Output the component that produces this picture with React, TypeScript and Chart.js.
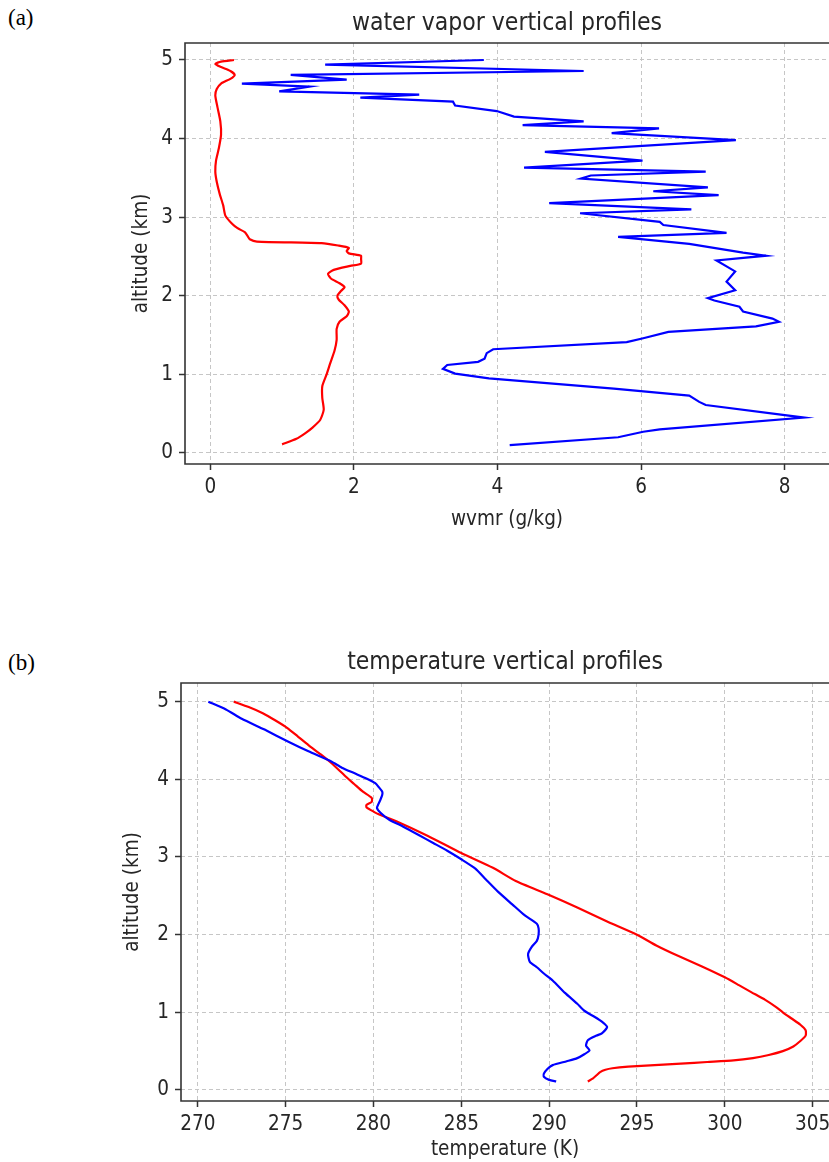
import React, { useEffect, useRef } from 'react';
import { Chart, registerables } from 'chart.js';

Chart.register(...registerables);

// ---------- data ----------
// (a) water vapor mixing ratio (g/kg) vs altitude (km)
const WV_RED_ALT = [0.11, 0.18, 0.25, 0.32, 0.42, 0.55, 0.7, 0.85, 1.0, 1.14, 1.3, 1.44, 1.58, 1.67, 1.74, 1.8, 1.88, 1.95, 2.0, 2.06, 2.11, 2.16, 2.22, 2.28, 2.33, 2.38, 2.41, 2.47, 2.51, 2.54, 2.57, 2.61, 2.64, 2.67, 2.69, 2.72, 2.76, 2.81, 2.86, 2.92, 3.02, 3.15, 3.3, 3.45, 3.58, 3.72, 3.88, 4.05, 4.22, 4.4, 4.55, 4.63, 4.7, 4.76, 4.81, 4.86, 4.91, 4.95, 4.98, 5.0];
const WV_RED = [1.0, 1.2, 1.32, 1.42, 1.53, 1.58, 1.56, 1.56, 1.62, 1.67, 1.73, 1.76, 1.76, 1.8, 1.9, 1.93, 1.87, 1.79, 1.77, 1.82, 1.87, 1.8, 1.68, 1.64, 1.72, 1.95, 2.1, 2.1, 2.1, 1.93, 1.9, 1.93, 1.78, 1.55, 0.65, 0.55, 0.52, 0.48, 0.38, 0.3, 0.21, 0.18, 0.13, 0.09, 0.07, 0.08, 0.12, 0.15, 0.14, 0.1, 0.07, 0.09, 0.15, 0.28, 0.34, 0.28, 0.15, 0.07, 0.15, 0.33];

const WV_BLUE_ALT = [0.1, 0.2, 0.27, 0.3, 0.45, 0.61, 0.65, 0.73, 0.82, 0.95, 1.01, 1.07, 1.12, 1.16, 1.2, 1.27, 1.32, 1.41, 1.46, 1.54, 1.61, 1.67, 1.71, 1.8, 1.86, 1.94, 1.97, 2.07, 2.18, 2.31, 2.45, 2.51, 2.55, 2.66, 2.75, 2.8, 2.9, 2.94, 3.05, 3.1, 3.18, 3.28, 3.33, 3.38, 3.49, 3.53, 3.58, 3.63, 3.72, 3.83, 3.98, 4.07, 4.13, 4.17, 4.22, 4.28, 4.35, 4.42, 4.47, 4.52, 4.56, 4.6, 4.66, 4.7, 4.75, 4.81, 4.86, 4.94, 5.0];
const WV_BLUE = [4.17, 5.68, 6.03, 6.26, 8.27, 6.9, 6.81, 6.67, 5.62, 3.88, 3.41, 3.24, 3.3, 3.73, 3.82, 3.85, 3.94, 5.8, 6.03, 6.38, 7.6, 7.92, 7.83, 7.42, 7.37, 7.02, 6.93, 7.31, 7.19, 7.31, 7.05, 7.74, 7.42, 6.67, 5.68, 7.19, 6.31, 6.26, 5.15, 6.7, 4.72, 7.08, 6.17, 6.93, 5.16, 5.3, 6.9, 4.37, 6.02, 4.66, 7.32, 5.59, 6.25, 4.35, 5.2, 4.23, 3.99, 3.41, 3.38, 2.09, 2.91, 0.96, 1.38, 0.44, 1.9, 1.12, 5.2, 1.6, 3.81];

// (b) temperature (K) vs altitude (km)
const T_RED_ALT = [0.11, 0.15, 0.19, 0.23, 0.26, 0.28, 0.3, 0.32, 0.34, 0.36, 0.38, 0.41, 0.45, 0.5, 0.56, 0.63, 0.7, 0.77, 0.84, 0.92, 1.0, 1.07, 1.16, 1.26, 1.35, 1.45, 1.59, 1.73, 1.86, 2.0, 2.17, 2.35, 2.52, 2.69, 2.86, 3.05, 3.27, 3.46, 3.55, 3.61, 3.64, 3.67, 3.71, 3.76, 3.84, 3.94, 4.04, 4.21, 4.32, 4.44, 4.55, 4.66, 4.76, 4.85, 4.93, 5.0];
const T_RED = [292.2, 292.5, 292.7, 292.9, 293.2, 293.6, 294.5, 296.0, 297.5, 299.0, 300.5, 301.6, 302.5, 303.3, 303.9, 304.3, 304.6, 304.6, 304.3, 303.8, 303.3, 302.9, 302.3, 301.5, 300.8, 300.0, 298.7, 297.3, 296.1, 295.0, 293.3, 291.6, 289.9, 288.1, 286.8, 285.0, 283.1, 281.3, 280.3, 279.8, 279.6, 279.6, 279.9, 279.9, 279.4, 278.9, 278.4, 277.6, 277.0, 276.3, 275.7, 275.1, 274.4, 273.7, 272.9, 272.05];

const T_BLUE_ALT = [0.11, 0.13, 0.17, 0.21, 0.27, 0.32, 0.37, 0.41, 0.46, 0.51, 0.57, 0.64, 0.7, 0.73, 0.81, 0.88, 0.94, 1.02, 1.11, 1.25, 1.41, 1.5, 1.58, 1.65, 1.75, 1.84, 1.92, 2.0, 2.08, 2.14, 2.25, 2.39, 2.55, 2.71, 2.85, 2.97, 3.08, 3.18, 3.28, 3.39, 3.48, 3.57, 3.63, 3.69, 3.74, 3.8, 3.84, 3.9, 3.95, 4.01, 4.08, 4.15, 4.23, 4.36, 4.49, 4.64, 4.78, 4.9, 5.0];
const T_BLUE = [290.4, 290.0, 289.7, 289.7, 289.9, 290.2, 291.0, 291.6, 292.0, 292.3, 292.1, 292.2, 292.7, 293.0, 293.3, 293.0, 292.6, 292.0, 291.6, 290.9, 290.2, 289.7, 289.3, 288.9, 288.8, 289.0, 289.3, 289.4, 289.4, 289.3, 288.6, 287.9, 287.1, 286.4, 285.8, 285.0, 284.2, 283.4, 282.6, 281.7, 280.9, 280.4, 280.2, 280.3, 280.4, 280.5, 280.5, 280.3, 280.1, 279.6, 278.9, 278.2, 277.6, 276.3, 275.1, 273.8, 272.5, 271.6, 270.6];

const WV_X_TICKS = [0, 2, 4, 6, 8];
const T_X_TICKS = [270, 275, 280, 285, 290, 295, 300, 305];
const ALT_TICKS = [0, 1, 2, 3, 4, 5];

// ---------- styling ----------
const FONT = '"DejaVu Sans Condensed", "DejaVu Sans", sans-serif';
const TEXT = '#262626';
const TICK_SIZE = 20.5;
const TITLE_SIZE = 24.5;
const LH = 1.2;

type Series = { alt: number[]; val: number[]; color: string; tension: number };

type Props = {
  top: number;
  width: number;
  height: number;
  title: string;
  xLabel: string;
  yLabel: string;
  xMin: number;
  xMax: number;
  yMin: number;
  yMax: number;
  xTicks: number[];
  yTicks: number[];
  series: Series[];
  plotLeft: number;
  plotTop: number;
  plotBottom: number;
  titleY: number;
  xLabelY: number;
  yLabelX: number;
};

const framePlugin = {
  id: 'frame',
  afterDraw(chart: any) {
    const { ctx, chartArea } = chart;
    const { left, top, right, bottom } = chartArea;
    ctx.save();
    ctx.strokeStyle = '#333333';
    ctx.lineWidth = 1.6;
    ctx.beginPath();
    ctx.moveTo(right + 2, top);
    ctx.lineTo(left, top);
    ctx.lineTo(left, bottom);
    ctx.lineTo(right + 2, bottom);
    ctx.stroke();
    ctx.restore();
  },
};

function ProfileChart(p: Props) {
  const ref = useRef<HTMLCanvasElement | null>(null);
  useEffect(() => {
    if (!ref.current) return;
    const tickFont = { family: FONT, size: TICK_SIZE, lineHeight: LH, weight: 'normal' as const };
    const titleLinePx = TITLE_SIZE * LH;
    const labelLinePx = TICK_SIZE * LH;
    const titlePadTop = p.titleY - titleLinePx / 2;
    const titlePadBottom = p.plotTop - titlePadTop - titleLinePx;
    const grid = {
      display: true,
      drawOnChartArea: true,
      drawTicks: true,
      color: '#c6c6c6',
      lineWidth: 1,
      tickLength: 6,
      tickColor: '#333333',
      tickWidth: 1.5,
      tickBorderDash: [] as number[],
    };
    const chart = new Chart(ref.current, {
      type: 'scatter',
      data: {
        datasets: p.series.map((s) => ({
          data: s.alt.map((a, i) => ({ x: s.val[i], y: a })),
          showLine: true,
          borderColor: s.color,
          backgroundColor: s.color,
          borderWidth: 2.2,
          pointRadius: 0,
          pointHoverRadius: 0,
          tension: s.tension,
          fill: false,
        })),
      },
      options: {
        responsive: false,
        animation: false,
        devicePixelRatio: 1,
        events: [],
        layout: { padding: 0 },
        plugins: {
          legend: { display: false },
          tooltip: { enabled: false },
          title: {
            display: true,
            text: p.title,
            fullSize: false,
            color: TEXT,
            font: { family: FONT, size: TITLE_SIZE, weight: 'normal', lineHeight: LH },
            padding: { top: titlePadTop, bottom: titlePadBottom },
          },
        },
        scales: {
          x: {
            type: 'linear',
            position: 'bottom',
            min: p.xMin,
            max: p.xMax,
            afterBuildTicks: (s: any) => {
              s.ticks = p.xTicks.map((v) => ({ value: v }));
            },
            afterFit: (s: any) => {
              s.height = p.height - p.plotBottom;
              s.paddingLeft = 0;
              s.paddingRight = 0;
            },
            grid,
            border: { display: false, dash: [4, 3] },
            ticks: {
              color: TEXT,
              font: tickFont,
              padding: 5,
              maxRotation: 0,
              autoSkip: false,
              callback: (v: any) => String(v),
            },
            title: {
              display: true,
              text: p.xLabel,
              color: TEXT,
              font: tickFont,
              padding: { top: 0, bottom: p.height - p.xLabelY - labelLinePx / 2 },
            },
          },
          y: {
            type: 'linear',
            position: 'left',
            min: p.yMin,
            max: p.yMax,
            afterBuildTicks: (s: any) => {
              s.ticks = p.yTicks.map((v) => ({ value: v }));
            },
            afterFit: (s: any) => {
              s.width = p.plotLeft;
              s.paddingTop = 0;
              s.paddingBottom = 0;
            },
            grid,
            border: { display: false, dash: [4, 3] },
            ticks: {
              color: TEXT,
              font: tickFont,
              padding: 6,
              autoSkip: false,
              callback: (v: any) => String(v),
            },
            title: {
              display: true,
              text: p.yLabel,
              color: TEXT,
              font: tickFont,
              padding: { top: p.yLabelX - labelLinePx / 2, bottom: 0 },
            },
          },
        },
      } as any,
      plugins: [framePlugin],
    });
    return () => chart.destroy();
  }, []);
  return (
    <canvas
      ref={ref}
      width={p.width}
      height={p.height}
      style={{ position: 'absolute', left: 0, top: p.top, width: p.width, height: p.height }}
    />
  );
}

const panelLabel: React.CSSProperties = {
  position: 'absolute',
  left: 8,
  fontFamily: '"Liberation Serif", "Times New Roman", serif',
  fontSize: 23,
  lineHeight: '23px',
  color: '#000',
};

export default function App() {
  return (
    <div style={{ position: 'absolute', left: 0, top: 0, width: 829, height: 1162, overflow: 'hidden', background: '#fff' }}>
      <div style={{ ...panelLabel, top: 6 }}>(a)</div>
      <div style={{ ...panelLabel, top: 651 }}>(b)</div>
      <ProfileChart
        top={0}
        width={829}
        height={560}
        title="water vapor vertical profiles"
        xLabel="wvmr (g/kg)"
        yLabel="altitude (km)"
        xMin={-0.352}
        xMax={8.617}
        yMin={-0.14}
        yMax={5.216}
        xTicks={WV_X_TICKS}
        yTicks={ALT_TICKS}
        series={[
          { alt: WV_RED_ALT, val: WV_RED, color: '#ff0000', tension: 0.2 },
          { alt: WV_BLUE_ALT, val: WV_BLUE, color: '#0000ff', tension: 0 },
        ]}
        plotLeft={185}
        plotTop={43}
        plotBottom={464}
        titleY={24}
        xLabelY={520}
        yLabelX={141.5}
      />
      <ProfileChart
        top={620}
        width={829}
        height={542}
        title="temperature vertical profiles"
        xLabel="temperature (K)"
        yLabel="altitude (km)"
        xMin={269.044}
        xMax={305.93}
        yMin={-0.142}
        yMax={5.24}
        xTicks={T_X_TICKS}
        yTicks={ALT_TICKS}
        series={[
          { alt: T_BLUE_ALT, val: T_BLUE, color: '#0000ff', tension: 0.2 },
          { alt: T_RED_ALT, val: T_RED, color: '#ff0000', tension: 0.2 },
        ]}
        plotLeft={181}
        plotTop={63}
        plotBottom={481}
        titleY={43}
        xLabelY={530}
        yLabelX={133}
      />
    </div>
  );
}
